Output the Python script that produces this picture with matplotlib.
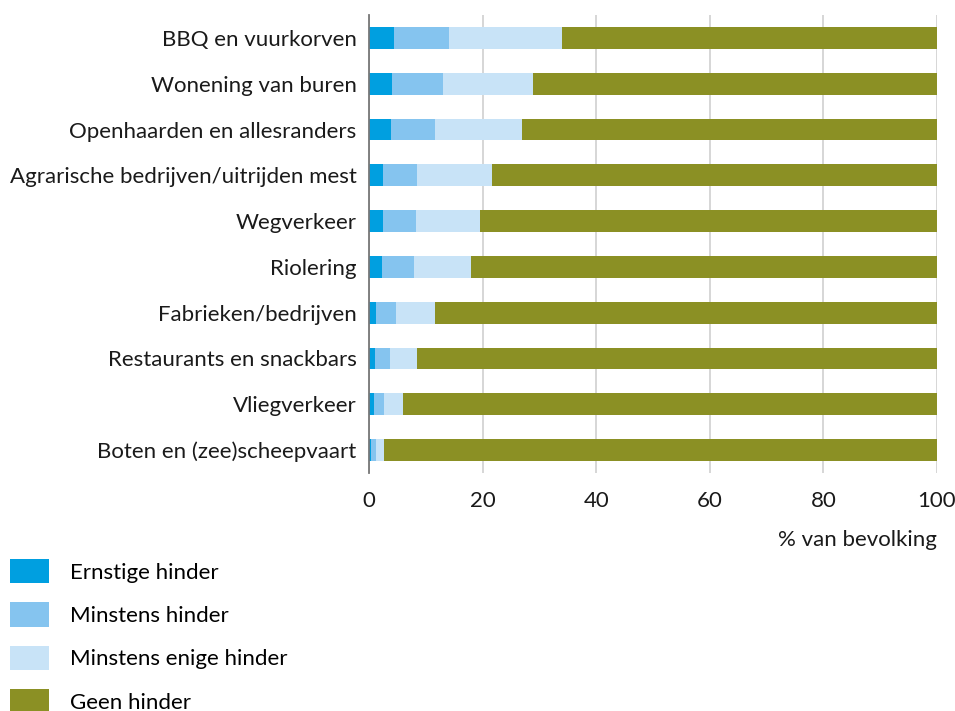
import matplotlib
matplotlib.use("Agg")
import matplotlib.pyplot as plt
from matplotlib.patches import Patch
import numpy as np

categories = ["BBQ en vuurkorven", "Wonening van buren", "Openhaarden en allesranders",
              "Agrarische bedrijven/uitrijden mest", "Wegverkeer", "Riolering",
              "Fabrieken/bedrijven", "Restaurants en snackbars", "Vliegverkeer",
              "Boten en (zee)scheepvaart"]
# cumulative percentages
ernstig = [4.4, 4.1, 3.9, 2.5, 2.5, 2.3, 1.2, 1.1, 0.8, 0.4]
minstens = [14.1, 13.0, 11.7, 8.5, 8.2, 7.9, 4.8, 3.7, 2.6, 1.2]
enige = [34.0, 28.8, 26.9, 21.7, 19.6, 17.9, 11.7, 8.5, 5.9, 2.6]
totaal = [100] * 10

labels = ["Ernstige hinder", "Minstens hinder", "Minstens enige hinder", "Geen hinder"]
colors = ["#009fe0", "#85c4ef", "#c8e3f7", "#8b9024"]

plt.rcParams['font.family'] = ['Lato', 'DejaVu Sans']
fs = 16

fig = plt.figure(figsize=(9.55, 7.11), dpi=100)
ax = fig.add_axes([369 / 955, 1 - 473 / 711, 568 / 955, 458 / 711])

y = np.arange(len(categories))
bounds = [np.zeros(10), np.array(ernstig), np.array(minstens), np.array(enige), np.array(totaal)]
for i in range(4):
    ax.barh(y, bounds[i + 1] - bounds[i], left=bounds[i], height=0.48,
            color=colors[i], zorder=3)

ax.set_xlim(0, 100)
ax.set_ylim(9.5, -0.5)
ax.set_yticks(y)
ax.set_yticklabels(categories, fontsize=fs, color="#1a1a1a")
ax.set_xticks([0, 20, 40, 60, 80, 100])
ax.set_xticklabels(["0", "20", "40", "60", "80", "100"], fontsize=fs, color="#1a1a1a")
ax.tick_params(axis="y", length=0, pad=9)
ax.tick_params(axis="x", length=0, pad=13)
ax.grid(axis="x", color="#d0d0d0", linewidth=1.2, zorder=0)
for s in ["top", "right", "bottom"]:
    ax.spines[s].set_visible(False)
ax.spines["left"].set_color("#777777")
ax.spines["left"].set_linewidth(1.3)
ax.spines["left"].set_zorder(4)

fig.text(937 / 955, 1 - 540 / 711, "% van bevolking", ha="right", va="center",
         fontsize=fs, color="#1a1a1a")

handles = [Patch(facecolor=c, edgecolor="none") for c in colors]
fig.legend(handles, labels, loc="upper left", bbox_to_anchor=(10 / 955, 1 - 559 / 711),
           frameon=False, fontsize=fs, handlelength=1.75, handleheight=1.3,
           labelspacing=0.86, handletextpad=0.95, borderaxespad=0, borderpad=0)

fig.savefig("out.png", dpi=100)
